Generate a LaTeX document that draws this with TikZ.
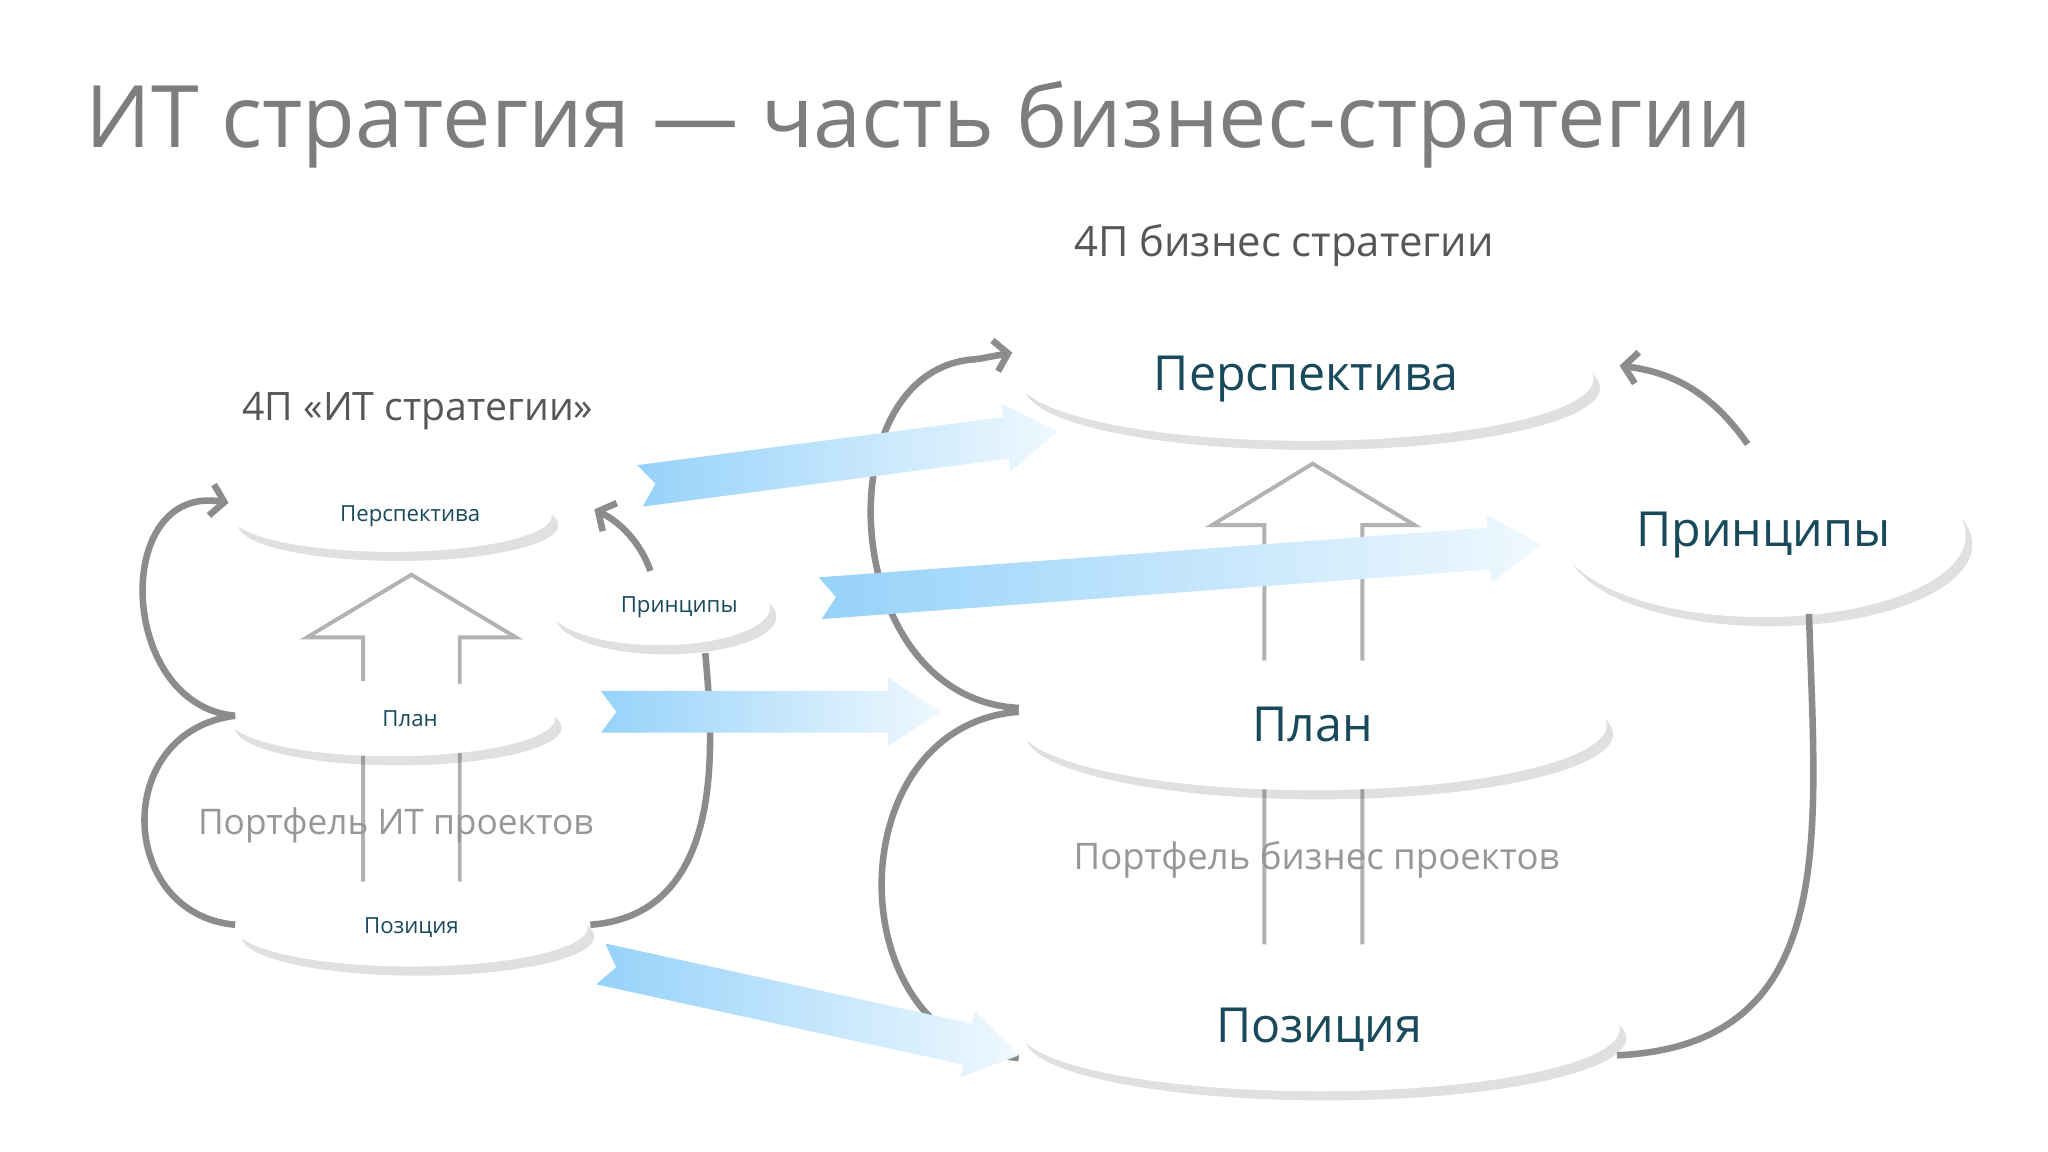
\documentclass[tikz,border=0pt]{standalone}
\usepackage{fontspec}
\setmainfont{Open Sans}
\usetikzlibrary{arrows.meta,shadows,shapes.geometric}
\definecolor{tgray}{RGB}{125,125,125}
\definecolor{teal}{RGB}{24,74,92}
\definecolor{arcg}{RGB}{140,140,140}
\definecolor{lblue}{RGB}{150,210,250}
\tikzset{
 x=1pt,y=-1pt,
 ell/.style={ellipse,fill=white,text=teal,inner sep=0pt,
   drop shadow={opacity=0.12,shadow xshift=5pt,shadow yshift=-7pt,fill=black}},
 arc/.style={draw=arcg,line width=5pt},
 arct/.style={arc,-{Straight Barb[length=10pt,width=24pt,line width=5pt]}},
 hol/.style={draw=gray!60,line width=3pt,fill=white},
}
\newcommand\blockarrow[4]{% x1,y1,x2,y2
 \pgfmathsetmacro\BAang{-atan2(#4-#2,#3-#1)}%
 \pgfmathsetmacro\BAlen{veclen(#3-#1,#4-#2)}%
 \path[shift={(#1,#2)},rotate=\BAang,left color=lblue,right color=lblue!15]
   (0,-16) -- (\BAlen-40,-16) -- (\BAlen-40,-26) -- (\BAlen,0) -- (\BAlen-40,26) -- (\BAlen-40,16) -- (0,16) -- (12,0) -- cycle;}
\begin{document}
\begin{tikzpicture}
\useasboundingbox[fill=white] (0,0) rectangle (1568,882);
\node[anchor=base west,text=tgray,font=\fontsize{66}{70}\selectfont] (title) at (62,113) {ИТ стратегия — часть бизнес-стратегии};
\node[text=tgray!70!black,font=\fontsize{32}{36}\selectfont] (h2) at (983,188) {4П бизнес стратегии};
\node[text=tgray!70!black,font=\fontsize{30}{34}\selectfont] (h1) at (320,315) {4П «ИТ стратегии»};

% hollow arrows
\draw[hol] (278,675) -- (278,488) -- (235,488) -- (315,440) -- (395,488) -- (352,488) -- (352,675);
\draw[hol] (968,723) -- (968,402) -- (928,402) -- (1005,355) -- (1083,402) -- (1043,402) -- (1043,723);

% left ellipses
\node[ell,minimum width=245,minimum height=55,font=\fontsize{17}{20}\selectfont] (lper) at (300,395) {\hspace*{28pt}Перспектива};
\node[ell,minimum width=250,minimum height=58,font=\fontsize{17}{20}\selectfont] (lpl) at (300,550) {\hspace*{28pt}План};
\node[ell,minimum width=270,minimum height=60,font=\fontsize{17}{20}\selectfont] (lpos) at (315,710) {Позиция};
\node[ell,minimum width=150,minimum height=58,font=\fontsize{17}{20}\selectfont] (lpr) at (505,465) {\hspace*{30pt}Принципы};
\node[text=tgray!80,font=\fontsize{27}{30}\selectfont] (lport) at (303,632) {Портфель ИТ проектов};

% right ellipses
\node[ell,minimum width=440,minimum height=95,font=\fontsize{37}{40}\selectfont] (rper) at (1000,290) {Перспектива};
\node[ell,minimum width=450,minimum height=100,font=\fontsize{37}{40}\selectfont] (rpl) at (1005,555) {План};
\node[ell,minimum width=460,minimum height=95,font=\fontsize{37}{40}\selectfont] (rpos) at (1010,788) {Позиция};
\node[ell,minimum width=310,minimum height=125,font=\fontsize{37}{40}\selectfont] (rpr) at (1350,410) {Принципы};
\node[text=tgray!80,font=\fontsize{28}{32}\selectfont] (rport) at (1008,658) {Портфель бизнес проектов};

% left curves
\draw[arc] (180,708) .. controls (90,700) and (85,560) .. (180,548);
\draw[arct] (180,548) .. controls (90,540) and (85,370) .. (175,385);
\draw[arc] (452,708) .. controls (560,700) and (545,560) .. (540,500);
\draw[arct] (498,437) .. controls (490,415) and (475,400) .. (455,390);

% right curves
\draw[arc] (780,542) .. controls (640,535) and (630,280) .. (748,275);
\draw[arct] (748,275) -- (775,270);
\draw[arc] (780,545) .. controls (640,555) and (640,800) .. (780,810);
\draw[arc] (1238,808) .. controls (1410,800) and (1390,640) .. (1385,470);
\draw[arct] (1338,340) .. controls (1310,300) and (1280,285) .. (1240,280);

% blue block arrows
\blockarrow{490}{372}{810}{330}
\blockarrow{628}{458}{1180}{417}
\blockarrow{460}{545}{720}{545}
\blockarrow{460}{738}{780}{808}
\end{tikzpicture}
\end{document}
